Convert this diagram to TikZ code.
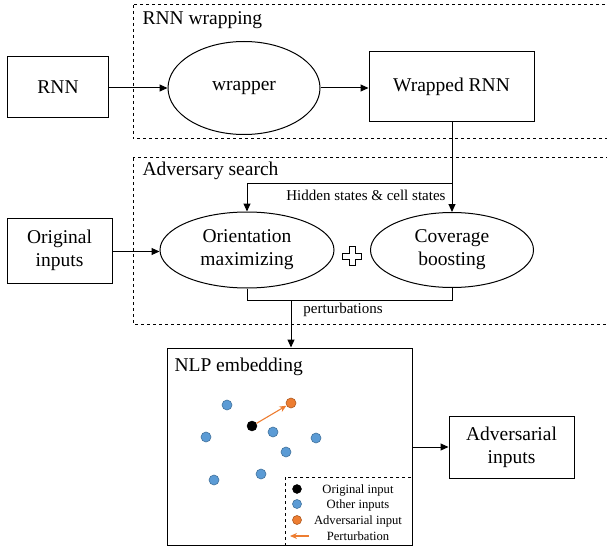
\documentclass[tikz,border=0pt]{standalone}
\usepackage{fontspec}
\setmainfont{Liberation Serif}
\usetikzlibrary{shapes.geometric,arrows.meta}
\definecolor{dotblue}{HTML}{5B9BD5}
\definecolor{dotblueline}{HTML}{41719C}
\definecolor{dotorange}{HTML}{ED7D31}
\definecolor{dotorangeline}{HTML}{AE5A21}
\tikzset{
  every picture/.style={x=1pt,y=-1pt},
  bigtxt/.style={font=\fontsize{19.5}{23}\selectfont},
  midtxt/.style={font=\fontsize{15}{17}\selectfont},
  smalltxt/.style={font=\fontsize{12.6}{14}\selectfont},
  boxnode/.style={draw,line width=1pt,minimum width=#1,inner sep=0pt,bigtxt,align=center},
  ellnode/.style={draw,ellipse,line width=1pt,inner sep=0pt,bigtxt,align=center},
  dashbox/.style={draw,dashed,line width=1pt},
  conn/.style={line width=1pt,-{Triangle[length=8pt,width=7pt]}},
  plainconn/.style={line width=1pt},
  bluedot/.style={circle,fill=dotblue,draw=dotblueline,line width=0.6pt,minimum size=10pt,inner sep=0pt},
  orangedot/.style={circle,fill=dotorange,draw=dotorangeline,line width=0.6pt,minimum size=10pt,inner sep=0pt},
  blackdot/.style={circle,fill=black,draw=black,minimum size=10pt,inner sep=0pt},
  orangearrow/.style={draw=dotorange,line width=1.1pt,-{Stealth[length=7pt,width=6pt]}},
}
\begin{document}
\begin{tikzpicture}
\useasboundingbox (0,0) rectangle (607,548);
% dashed groups
\draw[dashbox] (133,5) rectangle (607,139);
\node[bigtxt,anchor=west] (lwrap) at (139,20) {RNN wrapping};
\draw[dashbox] (133,158) rectangle (607,324);
\node[bigtxt,anchor=west] (lsearch) at (139,171) {Adversary search};
% top row
\node[boxnode=101pt,minimum height=61pt] (rnn) at (58,87.5) {RNN};
\node[ellnode,minimum width=152pt,minimum height=93pt] (wrapper) at (244,88) {wrapper};
\node[boxnode=165pt,minimum height=70pt] (wrnn) at (451.5,87) {Wrapped RNN};
\coordinate (rowy) at (0,88);
\draw[conn] (rnn.east |- rowy) -- (wrapper.west |- rowy);
\draw[conn] (wrapper.east |- rowy) -- (wrnn.west |- rowy);
% middle row
\node[boxnode=105pt,minimum height=65pt] (orig) at (59.5,250.5) {Original\\inputs};
\node[ellnode,minimum width=174pt,minimum height=76pt] (orient) at (247,250) {Orientation\\maximizing};
\node[ellnode,minimum width=163pt,minimum height=75pt] (cover) at (452,250) {Coverage\\boosting};
\coordinate (plus) at (352,256);
\draw[line width=1pt] ([shift={(-3,-9.5)}]plus) -- ([shift={(3,-9.5)}]plus) -- ([shift={(3,-3)}]plus)
  -- ([shift={(9.5,-3)}]plus) -- ([shift={(9.5,3)}]plus) -- ([shift={(3,3)}]plus)
  -- ([shift={(3,9.5)}]plus) -- ([shift={(-3,9.5)}]plus) -- ([shift={(-3,3)}]plus)
  -- ([shift={(-9.5,3)}]plus) -- ([shift={(-9.5,-3)}]plus) -- ([shift={(-3,-3)}]plus) -- cycle;
\coordinate (midy) at (0,251.5);
\draw[conn] (orig.east |- midy) -- (orient.west |- midy);
\draw[conn] (wrnn.south -| cover.north) -- (cover.north);
\coordinate (hs) at (452,183);
\draw[conn] (hs) -- (247,183) -- (orient.north);
\node[midtxt,anchor=east] (hlabel) at (449,195) {Hidden states \& cell states};
% perturbations
\coordinate (pj) at (291,300);
\draw[plainconn] (orient.south) -- (247,300) -- (452,300) -- (cover.south);
\node[midtxt] (plabel) at (343,310) {perturbations};
% NLP box
\node[draw,line width=1pt,minimum width=245pt,minimum height=197pt,inner sep=0pt] (nlp) at (289.5,446.5) {};
\draw[conn] (pj) -- (nlp.north -| pj);
\node[bigtxt,anchor=west] (lnlp) at (171,367) {NLP embedding};
\node[boxnode=125pt,minimum height=62pt] (adv) at (511.5,447) {Adversarial\\inputs};
\draw[conn] (nlp.east |- adv) -- (adv);
% dots
\node[bluedot] (b1) at (227,405) {};
\node[bluedot] (b2) at (206,437) {};
\node[bluedot] (b3) at (273,432) {};
\node[bluedot] (b4) at (316,438) {};
\node[bluedot] (b5) at (286,452) {};
\node[bluedot] (b6) at (214,480) {};
\node[bluedot] (b7) at (261,474) {};
\node[blackdot] (k1) at (252,426) {};
\node[orangedot] (o1) at (291,403) {};
\draw[orangearrow] (k1) -- (o1);
% legend
\draw[dashbox] (285,477) rectangle (412,545);
\node[blackdot,minimum size=9pt] (lk) at (297,489) {};
\node[bluedot,minimum size=9pt] (lb) at (297,504) {};
\node[orangedot,minimum size=9pt] (lo) at (297,520) {};
\coordinate (la1) at (309,536);
\coordinate (la2) at (290,536);
\draw[orangearrow] (la1) -- (la2);
\node[smalltxt] (t1) at (358,490) {Original input};
\node[smalltxt] (t2) at (358,505) {Other inputs};
\node[smalltxt] (t3) at (358,521) {Adversarial input};
\node[smalltxt] (t4) at (358,536) {Perturbation};
\end{tikzpicture}
\end{document}
